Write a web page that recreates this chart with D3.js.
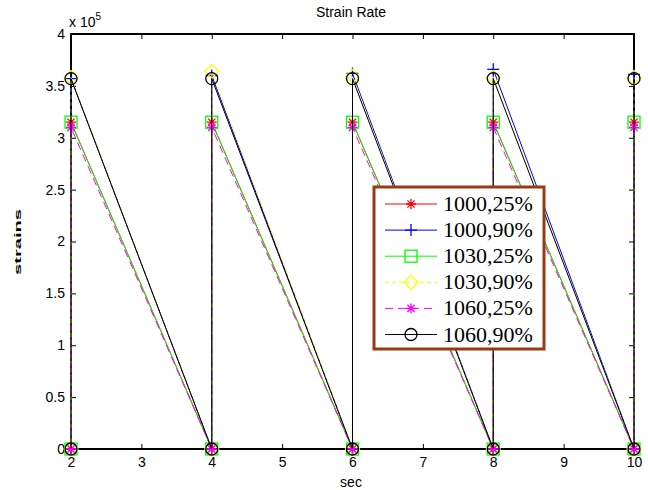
<!DOCTYPE html>
<html>
<head>
<meta charset="utf-8">
<script src="https://cdn.jsdelivr.net/npm/d3@7/dist/d3.min.js"></script>
<style>
  body { margin: 0; background: #fff; }
  svg text { font-family: "Liberation Sans", Arial, sans-serif; }
</style>
</head>
<body>
<div id="chart"></div>
<script>
// sample times (each time appears twice: drop to 0, then jump to the peak)
const times = [2, 2, 4, 4, 6, 6, 8, 8, 10, 10];
const seriesNames = ["1000,25%", "1000,90%", "1030,25%", "1030,90%", "1060,25%", "1060,90%"];
// values in units of 1e5
const s1000_25 = [0, 3.15, 0, 3.15, 0, 3.15, 0, 3.15, 0, 3.15];
const s1000_90 = [0, 3.57, 0, 3.60, 0, 3.62, 0, 3.66, 0, 3.61];
const s1030_25 = [0, 3.15, 0, 3.15, 0, 3.15, 0, 3.15, 0, 3.15];
const s1030_90 = [0, 3.58, 0, 3.64, 0, 3.59, 0, 3.58, 0, 3.58];
const s1060_25 = [0, 3.10, 0, 3.10, 0, 3.10, 0, 3.10, 0, 3.10];
const s1060_90 = [0, 3.57, 0, 3.57, 0, 3.57, 0, 3.57, 0, 3.57];
const xTicks = [2, 3, 4, 5, 6, 7, 8, 9, 10];
const yTicks = [0, 0.5, 1, 1.5, 2, 2.5, 3, 3.5, 4];

const allValues = [s1000_25, s1000_90, s1030_25, s1030_90, s1060_25, s1060_90];
const colors = ["#ff0000", "#0000ff", "#00ff00", "#ffff00", "#ff00ff", "#000000"];
const dashes = [null, null, null, "4,3", "8,5", null];
const markers = ["star", "plus", "square", "diamond", "star", "circle"];

const width = 648, height = 490;
const pLeft = 71, pRight = 634, pTop = 34, pBottom = 449;

const svg = d3.select("#chart").append("svg")
    .attr("width", width)
    .attr("height", height);

const xScale = d3.scaleLinear().domain([2, 10]).range([pLeft, pRight]);
const yScale = d3.scaleLinear().domain([0, 4]).range([pBottom, pTop]);

// box first, series are drawn over it
svg.append("rect")
    .attr("x", pLeft).attr("y", pTop)
    .attr("width", pRight - pLeft).attr("height", pBottom - pTop)
    .attr("fill", "none").attr("stroke", "#000").attr("stroke-width", 2);

// axes, MATLAB style ticks pointing inward on all four sides
const tickLen = 5;
const xAxis = d3.axisBottom(xScale).tickValues(xTicks).tickSize(-tickLen).tickPadding(8).tickFormat(d3.format("d"));
const yAxis = d3.axisLeft(yScale).tickValues(yTicks).tickSize(-tickLen).tickPadding(6).tickFormat(d => d);
const xTop = d3.axisTop(xScale).tickValues(xTicks).tickSize(-tickLen).tickFormat("");
const yRight = d3.axisRight(yScale).tickValues(yTicks).tickSize(-tickLen).tickFormat("");

function styleAxis(g) {
    g.select(".domain").remove();
    g.selectAll("line").attr("stroke", "#000").attr("stroke-width", 1);
    g.selectAll("text").style("font-size", "14px").attr("fill", "#000");
}

svg.append("g").attr("transform", `translate(0,${pBottom})`).call(xAxis).call(styleAxis);
svg.append("g").attr("transform", `translate(${pLeft},0)`).call(yAxis).call(styleAxis);
svg.append("g").attr("transform", `translate(0,${pTop})`).call(xTop).call(styleAxis);
svg.append("g").attr("transform", `translate(${pRight},0)`).call(yRight).call(styleAxis);

// series lines
const line = d3.line().x(d => xScale(d[0])).y(d => yScale(d[1]));

function drawMarker(g, type, x, y, color) {
    if (type === "circle") {
        g.append("circle").attr("cx", x).attr("cy", y).attr("r", 6)
            .attr("fill", "none").attr("stroke", color).attr("stroke-width", 1.3);
    } else if (type === "square") {
        g.append("rect").attr("x", x - 6).attr("y", y - 6).attr("width", 12).attr("height", 12)
            .attr("fill", "none").attr("stroke", color).attr("stroke-width", 1.3);
    } else if (type === "diamond") {
        g.append("path").attr("d", `M${x},${y - 7}L${x + 7},${y}L${x},${y + 7}L${x - 7},${y}Z`)
            .attr("fill", "none").attr("stroke", color).attr("stroke-width", 1.3);
    } else if (type === "plus") {
        g.append("path").attr("d", `M${x - 6},${y}H${x + 6}M${x},${y - 6}V${y + 6}`)
            .attr("stroke", color).attr("stroke-width", 1.3);
    } else if (type === "star") {
        const r = 5, q = 3.6;
        g.append("path").attr("d", `M${x - r},${y}H${x + r}M${x},${y - r}V${y + r}M${x - q},${y - q}L${x + q},${y + q}M${x - q},${y + q}L${x + q},${y - q}`)
            .attr("stroke", color).attr("stroke-width", 1.3);
    }
}

allValues.forEach((vals, i) => {
    const pts = vals.map((v, j) => [times[j], v]);
    svg.append("path")
        .attr("d", line(pts))
        .attr("fill", "none")
        .attr("stroke", colors[i])
        .attr("stroke-width", 1)
        .attr("stroke-dasharray", dashes[i]);
    const mg = svg.append("g");
    pts.forEach(p => drawMarker(mg, markers[i], xScale(p[0]), yScale(p[1]), colors[i]));
});

// labels
svg.append("text").attr("x", 351).attr("y", 17).attr("text-anchor", "middle")
    .style("font-size", "14px").text("Strain Rate");
svg.append("text").attr("x", 351).attr("y", 487).attr("text-anchor", "middle")
    .style("font-size", "14px").text("sec");
const expo = svg.append("text").attr("x", 69).attr("y", 27).style("font-size", "14px");
expo.append("tspan").text("x 10");
expo.append("tspan").attr("dy", -7).style("font-size", "10px").text("5");
svg.append("text")
    .attr("transform", "translate(21,242) rotate(-90)")
    .attr("text-anchor", "middle")
    .attr("textLength", 66)
    .attr("lengthAdjust", "spacingAndGlyphs")
    .style("font-size", "9px").style("font-weight", "bold")
    .text("strains");

// legend
const lg = svg.append("g");
lg.append("rect").attr("x", 374).attr("y", 187).attr("width", 170).attr("height", 162)
    .attr("fill", "#fff").attr("stroke", "#9a3a12").attr("stroke-width", 3);
seriesNames.forEach((name, i) => {
    const y = 204 + i * 26.1;
    lg.append("line").attr("x1", 385).attr("x2", 437).attr("y1", y).attr("y2", y)
        .attr("stroke", colors[i]).attr("stroke-width", 1).attr("stroke-dasharray", dashes[i]);
    drawMarker(lg, markers[i], 411, y, colors[i]);
    lg.append("text").attr("x", 443).attr("y", y + 7)
        .style("font-family", "'Liberation Serif', 'Times New Roman', serif")
        .style("font-size", "22px").text(name);
});
</script>
</body>
</html>
